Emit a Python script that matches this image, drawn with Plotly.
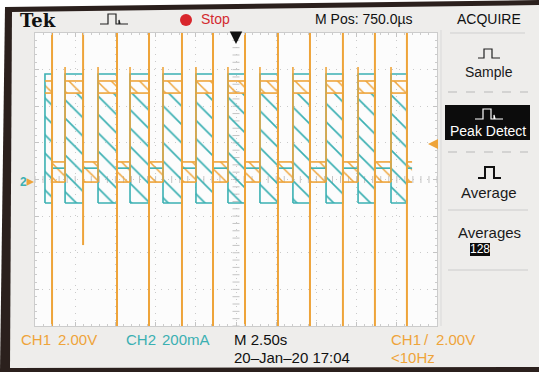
import numpy as np
import plotly.graph_objects as go

W, H = 539, 372

# ---------------- data ----------------
# horizontal: time in s (M 2.50 s/div, 10 div); vertical: screen divisions (8 div)
spike_t = [1.06, 2.99, 5.10, 7.09, 9.14, 11.07, 13.06, 15.11, 17.10, 19.15, 21.14, 23.13]
spike_top = [4.5, 4.5, 4.5, 4.5, 4.5, 4.5, 4.5, 4.5, 4.5, 4.5, 4.5, 4.5]
spike_bottom = [-4.5, -1.79, -4.5, -4.5, -4.5, -4.5, -4.5, -4.5, -4.5, -4.5, -4.5, -4.5]
rise_t = [1.87, 3.92, 5.91, 7.96, 10.01, 12.00, 13.99, 16.04, 18.10, 20.09, 22.14]
record_start, record_end = 0.62, 23.45

ch2_high = 2.88        # CH2 (current) envelope top in high state
ch2_peak_low = -0.64   # CH2 envelope bottom in high state
ch2_low = 0.31         # CH2 level in low state
ch1_high_top, ch1_high_bot = 2.69, 2.36
ch1_low_top, ch1_low_bot = 0.48, -0.07
ch1_overshoot = 3.07
trigger_level = 0.97
ch2_ground = -0.07
trigger_pos = 12.5

ORANGE = "#eea43a"
CYAN = "#3bb0b2"
FONT = "Liberation Sans, Arial, sans-serif"

high_start = [record_start] + rise_t
high_end = spike_t
low_start = spike_t
low_end = rise_t + [record_end]


def rects(starts, ends, lo, hi):
    xs, ys = [], []
    for a, b in zip(starts, ends):
        xs += [a, b, b, a, a, None]
        ys += [lo, lo, hi, hi, lo, None]
    return xs, ys


def hlines(starts, ends, y):
    xs, ys = [], []
    for a, b in zip(starts, ends):
        xs += [a, b, None]
        ys += [y, y, None]
    return xs, ys


def vlines(xpos, y0s, y1s):
    xs, ys = [], []
    for x, a, b in zip(xpos, y0s, y1s):
        xs += [x, x, None]
        ys += [a, b, None]
    return xs, ys


fig = go.Figure()

# graticule centre-cross ticks
fig.add_trace(go.Scatter(x=np.arange(0, 25.001, 0.5), y=np.zeros(51), mode="markers",
                         marker=dict(symbol="line-ns", size=5, line=dict(width=1, color="#c4c4c4")),
                         hoverinfo="skip"))
yt = np.arange(-4, 4.001, 0.2)
fig.add_trace(go.Scatter(x=np.full(len(yt), trigger_pos), y=yt, mode="markers",
                         marker=dict(symbol="line-ew", size=5, line=dict(width=1, color="#c4c4c4")),
                         hoverinfo="skip"))

# CH2 hatched (aliased) high-state region
hx, hy = rects(high_start, high_end, ch2_peak_low, ch1_high_bot)
fig.add_trace(go.Scatter(x=hx, y=hy, mode="lines", fill="toself", line=dict(width=0),
                         fillcolor=CYAN,
                         fillpattern=dict(shape="\\", fgcolor=CYAN, bgcolor="rgba(0,0,0,0)",
                                          size=13, solidity=0.13, fillmode="replace"),
                         hoverinfo="skip"))
# CH1 hatched bands
ax1, ay1 = rects(high_start, high_end, ch1_high_bot, ch1_high_top)
ax2, ay2 = rects(low_start, low_end, ch1_low_bot, ch1_low_top)
fig.add_trace(go.Scatter(x=ax1 + ax2, y=ay1 + ay2, mode="lines", fill="toself", line=dict(width=0),
                         fillcolor=ORANGE,
                         fillpattern=dict(shape="\\", fgcolor=ORANGE, bgcolor="rgba(0,0,0,0)",
                                          size=10, solidity=0.15, fillmode="replace"),
                         hoverinfo="skip"))
# CH2 outlines
cx1, cy1 = rects(high_start, high_end, ch2_peak_low, ch2_high)
cx2, cy2 = hlines(low_start, low_end, ch2_low)
fig.add_trace(go.Scatter(x=cx1 + cx2, y=cy1 + cy2, mode="lines",
                         line=dict(color=CYAN, width=1.6), hoverinfo="skip"))
# CH1 lines
ox, oy = [], []
for seg in (hlines(high_start, high_end, ch1_high_top), hlines(high_start, high_end, ch1_high_bot),
            hlines(low_start, low_end, ch1_low_top), hlines(low_start, low_end, ch1_low_bot),
            vlines(rise_t, [ch1_low_bot] * len(rise_t), [ch1_overshoot] * len(rise_t))):
    ox += seg[0]
    oy += seg[1]
fig.add_trace(go.Scatter(x=ox, y=oy, mode="lines", line=dict(color=ORANGE, width=1.6),
                         hoverinfo="skip"))
# CH1 peak-detect spikes
sx, sy = vlines(spike_t, spike_top, spike_bottom)
fig.add_trace(go.Scatter(x=sx, y=sy, mode="lines", line=dict(color=ORANGE, width=2),
                         hoverinfo="skip"))


def PX(x):
    return x / W


def PY(y):
    return 1 - y / H


def path(pts, close=True):
    s = "M " + " L ".join(f"{PX(x):.5f},{PY(y):.5f}" for x, y in pts)
    return s + (" Z" if close else "")


shapes = []
shapes.append(dict(type="path", xref="paper", yref="paper", layer="below",
                   path=path([(5, 7), (539, 0), (539, 372), (0, 372)]),
                   fillcolor="#2b201d", line=dict(width=0)))
shapes.append(dict(type="path", xref="paper", yref="paper", layer="below",
                   path=path([(12, 12), (539, 5), (539, 367), (10, 368)]),
                   fillcolor="#eeedeb", line=dict(width=0)))
shapes.append(dict(type="rect", xref="paper", yref="paper", layer="below",
                   x0=PX(35), x1=PX(437), y0=PY(326), y1=PY(33),
                   fillcolor="#fcfcfc", line=dict(width=0)))


def line(x0, y0, x1, y1, color, width=1, dash="solid"):
    shapes.append(dict(type="line", xref="paper", yref="paper", x0=PX(x0), y0=PY(y0),
                       x1=PX(x1), y1=PY(y1), line=dict(color=color, width=width, dash=dash)))


def box(x0, y0, x1, y1, color):
    shapes.append(dict(type="rect", xref="paper", yref="paper", x0=PX(x0), x1=PX(x1),
                       y0=PY(y1), y1=PY(y0), fillcolor=color, line=dict(width=0)))


def icon(pts, color, width=1.2):
    shapes.append(dict(type="path", xref="paper", yref="paper", path=path(pts, close=False),
                       line=dict(color=color, width=width)))


line(441, 30, 441, 326, "#d9d9d9")
line(450, 33, 525, 33, "#cfcfcf")
line(448, 92, 528, 92, "#b9b9b9", 1, "dash")
box(445, 105, 530, 140, "#0c0c0c")
line(448, 152, 528, 152, "#b9b9b9", 1, "dash")
line(448, 210, 528, 210, "#cccccc")
box(470, 243, 490, 256, "#0c0c0c")
line(448, 270, 528, 270, "#cccccc")
shapes.append(dict(type="circle", xref="paper", yref="paper", x0=PX(180), x1=PX(192),
                   y0=PY(26), y1=PY(14), fillcolor="#d8262c", line=dict(width=0)))

pd_icon = [(0, 10), (8, 10), (8, 0), (16, 0), (16, 10), (19, 10), (19, 6), (20, 10), (28, 10)]
icon([(100 + a, 14 + b) for a, b in pd_icon], "#222222", 1.2)
sm_icon = [(0, 9), (6, 9), (6, 0), (14, 0), (14, 9), (22, 9)]
icon([(478 + a, 49 + b) for a, b in sm_icon], "#222222", 1.2)
icon([(475 + a, 109 + b) for a, b in pd_icon], "#ffffff", 1.2)
av_icon = [(0, 11), (7, 11), (7, 0), (16, 0), (16, 11), (23, 11)]
icon([(478 + a, 167 + b) for a, b in av_icon], "#111111", 2)

ann = []


def text(x, y, s, color="#1a1a1a", size=14, anchor="left", family=FONT):
    ann.append(dict(x=PX(x), y=PY(y), xref="paper", yref="paper", text=s, showarrow=False,
                    xanchor=anchor, yanchor="middle", font=dict(family=family, size=size, color=color)))


text(18, 21, "<b>Tek</b>", "#111111", 18, family="DejaVu Serif, serif")
text(199, 19, "Stop", "#d32a2f", 14)
text(364, 19, "M Pos: 750.0µs", "#111111", 14, "center")
text(489, 19, "ACQUIRE", "#111111", 14, "center")
text(489, 72, "Sample", "#1a1a1a", 14, "center")
text(488, 131, "Peak Detect", "#ffffff", 14, "center")
text(489, 192, "Average", "#1a1a1a", 15, "center")
text(489, 232, "Averages", "#1a1a1a", 15, "center")
text(480, 249.5, "128", "#ffffff", 12, "center")

text(19, 339, "CH1", ORANGE, 15)
text(56, 339, "2.00V", ORANGE, 15)
text(124, 339, "CH2", CYAN, 15)
text(160, 339, "200mA", CYAN, 15)
text(232, 339, "M 2.50s", "#111111", 15)
text(232, 357, "20–Jan–20 17:04", "#111111", 15)
text(389, 339, "CH1", ORANGE, 15)
text(422, 339, "/", ORANGE, 15)
text(434, 339, "2.00V", ORANGE, 15)
text(389, 357, "<10Hz", ORANGE, 15)

# channel-2 ground marker
ann.append(dict(x=PX(23), y=ch2_ground, xref="paper", yref="y", text="<b>2</b>", showarrow=False,
                xanchor="center", yanchor="middle", font=dict(family=FONT, size=12, color=CYAN)))
ann.append(dict(x=PX(34), y=ch2_ground, xref="paper", yref="y", text="", showarrow=True,
                ax=-6, ay=0, arrowhead=2, arrowsize=1, arrowwidth=1.5, arrowcolor=ORANGE))
# trigger level marker (right)
ann.append(dict(x=PX(428), y=trigger_level, xref="paper", yref="y", text="", showarrow=True,
                ax=10, ay=0, arrowhead=2, arrowsize=1, arrowwidth=2, arrowcolor=ORANGE))
# trigger position marker (top)
ann.append(dict(x=trigger_pos, y=PY(44), xref="x", yref="paper", text="", showarrow=True,
                ax=0, ay=-13, arrowhead=2, arrowsize=1, arrowwidth=2.5, arrowcolor="#111111"))

axis_common = dict(showticklabels=False, zeroline=False, showline=True, linecolor="#cccccc",
                   linewidth=1, mirror="ticks", ticks="inside", ticklen=4, tickcolor="#c4c4c4",
                   showgrid=True, gridcolor="#cacaca", griddash="1px,6px", gridwidth=1,
                   fixedrange=True)

fig.update_layout(
    width=W, height=H, margin=dict(l=0, r=0, t=0, b=0),
    paper_bgcolor="#ffffff", plot_bgcolor="rgba(0,0,0,0)", showlegend=False,
    xaxis=dict(range=[0, 25], domain=[PX(35), PX(437)], dtick=2.5,
               minor=dict(dtick=0.5, ticks="inside", ticklen=2, tickcolor="#cccccc", showgrid=False),
               **axis_common),
    yaxis=dict(range=[-4, 4], domain=[PY(326), PY(33)], dtick=1,
               minor=dict(dtick=0.2, ticks="inside", ticklen=2, tickcolor="#cccccc", showgrid=False),
               **axis_common),
    shapes=shapes, annotations=ann,
)

fig.write_html("out.html", config={"displayModeBar": False},
               post_script="document.body.style.margin='0';document.body.style.padding='0';"
                           "document.body.style.overflow='hidden';")
